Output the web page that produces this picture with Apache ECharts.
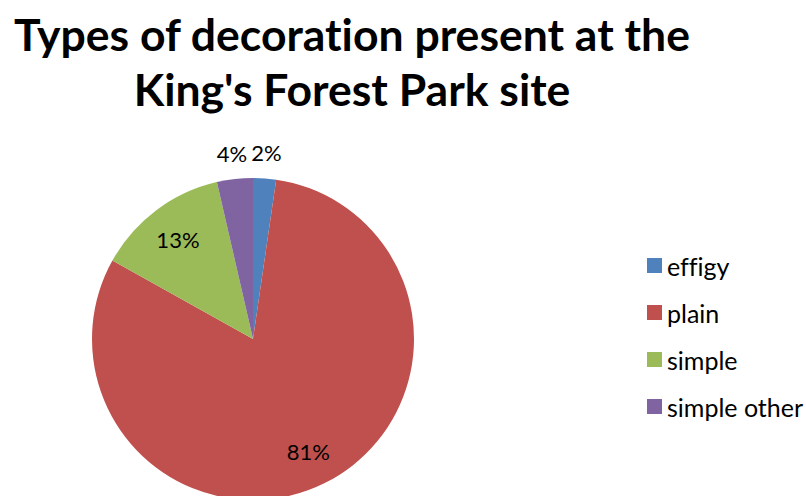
<!DOCTYPE html>
<html>
<head>
<meta charset="utf-8">
<script src="https://cdn.jsdelivr.net/npm/echarts@6/dist/echarts.min.js"></script>
<style>
  html, body { margin: 0; padding: 0; background: #ffffff; }
  #chart { width: 806px; height: 496px; }
  #chart text { font-variant-ligatures: none; font-feature-settings: "liga" 0, "clig" 0; }
</style>
</head>
<body>
<div id="chart"></div>
<script>
// Decoration types found at the King's Forest Park site (share of sherds, %)
const categories = ['effigy', 'plain', 'simple', 'simple other'];
const shares = [2.3, 80.8, 13.3, 3.6];
const colors = ['#4F81BD', '#C0504D', '#9BBB59', '#8064A2'];
// Which slices carry their percentage label inside the pie vs. above it
const insideLabels = ['plain', 'simple'];
const titleLines = ['Types of decoration present at the', "King's Forest Park site"];

const FONT = 'Lato, "Open Sans", sans-serif';
const center = [253, 339];
const R = 161;

const pieData = categories.map((name, i) => ({
  name,
  value: shares[i],
  itemStyle: { color: colors[i] }
}));

// Transparent rings used only to position the percentage labels
function labelRing(radius, names) {
  return {
    type: 'pie',
    radius,
    center,
    silent: true,
    z: 5,
    percentPrecision: 0,
    emphasis: { disabled: true },
    itemStyle: { color: 'rgba(0,0,0,0)', borderWidth: 0 },
    labelLine: { show: false },
    data: categories.map((name, i) => ({
      name,
      value: shares[i],
      itemStyle: { color: 'rgba(0,0,0,0)' },
      label: {
        show: names.indexOf(name) >= 0,
        position: 'inside',
        formatter: '{d}%',
        color: '#000',
        fontFamily: FONT,
        fontSize: 22
      }
    }))
  };
}

const chart = echarts.init(document.getElementById('chart'), null, { renderer: 'svg' });
chart.setOption({
  animation: false,
  backgroundColor: '#ffffff',
  title: {
    text: titleLines.join('\n'),
    left: 347,
    top: 1,
    textAlign: 'center',
    textStyle: {
      fontFamily: FONT,
      fontWeight: 'bold',
      fontSize: 44.5,
      lineHeight: 55,
      color: '#000'
    }
  },
  legend: {
    orient: 'vertical',
    left: 642,
    top: 248,
    itemWidth: 15,
    itemHeight: 15,
    itemGap: 22,
    icon: 'rect',
    selectedMode: false,
    data: categories,
    textStyle: {
      fontFamily: FONT,
      fontSize: 25,
      lineHeight: 25,
      color: '#000'
    }
  },
  series: [
    {
      type: 'pie',
      radius: [0, R],
      center,
      startAngle: 90,
      clockwise: true,
      silent: true,
      label: { show: false },
      labelLine: { show: false },
      itemStyle: { borderWidth: 0 },
      data: pieData
    },
    labelRing([R - 78, R], insideLabels),
    labelRing([R, R + 46], categories.filter(c => insideLabels.indexOf(c) < 0))
  ]
});
</script>
</body>
</html>
